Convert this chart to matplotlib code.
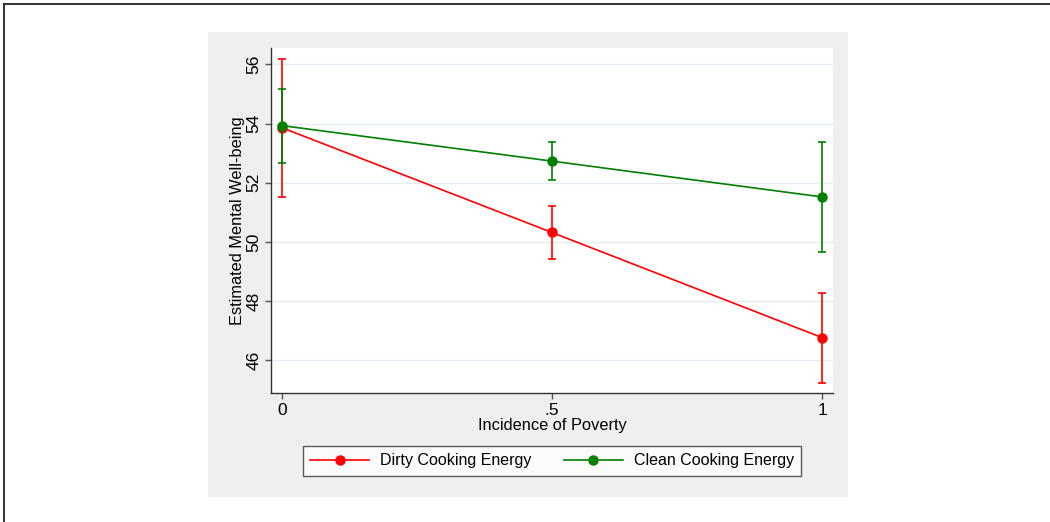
import matplotlib
matplotlib.use("Agg")
import matplotlib.pyplot as plt
from matplotlib.lines import Line2D
from matplotlib.patches import Rectangle

plt.rcParams['font.family'] = ['Liberation Sans', 'DejaVu Sans']

poverty = [0.0, 0.5, 1.0]
x_tick_labels = ['0', '.5', '1']
y_ticks = [46, 48, 50, 52, 54, 56]

dirty_mean = [53.86, 50.32, 46.77]
dirty_lo = [51.53, 49.42, 45.25]
dirty_hi = [56.17, 51.20, 48.28]

clean_mean = [53.93, 52.73, 51.52]
clean_lo = [52.68, 52.10, 49.65]
clean_hi = [55.16, 53.36, 53.39]

series_labels = ['Dirty Cooking Energy', 'Clean Cooking Energy']

W, H = 1050, 522
fig = plt.figure(figsize=(W / 100, H / 100), dpi=100)
fig.patch.set_facecolor('white')

# gray graph region
fig.patches.append(Rectangle((208 / W, 1 - 497 / H), 640 / W, 465 / H,
                             transform=fig.transFigure, facecolor='#efefef',
                             edgecolor='none', zorder=0))
# outer border lines (top & left)
fig.lines.append(Line2D([4 / W, 1], [1 - 4 / H, 1 - 4 / H], transform=fig.transFigure,
                        color='#222222', lw=1.3))
fig.lines.append(Line2D([4 / W, 4 / W], [0, 1 - 4 / H], transform=fig.transFigure,
                        color='#222222', lw=1.3))

ax = fig.add_axes([271 / W, 1 - 393 / H, (833 - 271) / W, (393 - 48) / H])
ax.set_facecolor('white')
ax.set_zorder(1)

def err(mean, lo, hi):
    return [[m - l for m, l in zip(mean, lo)], [h - m for m, h in zip(mean, hi)]]

red = '#ff0000'
green = '#008000'
ax.errorbar(poverty, dirty_mean, yerr=err(dirty_mean, dirty_lo, dirty_hi), color=red,
            lw=1.2, marker='o', ms=6.5, capsize=3.2, elinewidth=1.2, capthick=1.2,
            label=series_labels[0], zorder=3)
ax.errorbar(poverty, clean_mean, yerr=err(clean_mean, clean_lo, clean_hi), color=green,
            lw=1.2, marker='o', ms=6.5, capsize=3.2, elinewidth=1.2, capthick=1.2,
            label=series_labels[1], zorder=4)

ax.set_xlim(-0.02, 1.02)
ax.set_ylim(44.9, 56.55)
ax.set_xticks(poverty)
ax.set_xticklabels(x_tick_labels)
ax.set_yticks(y_ticks)
ax.set_yticklabels([str(v) for v in y_ticks], rotation=90, va='center')
ax.grid(axis='y', color='#e6edf0', lw=1.0)
ax.set_axisbelow(True)
for s in ['top', 'right']:
    ax.spines[s].set_visible(False)
for s in ['left', 'bottom']:
    ax.spines[s].set_color('#333333')
    ax.spines[s].set_linewidth(1.0)
ax.tick_params(direction='out', length=4, width=1.0, color='#555555',
               labelsize=12.5, pad=3)
ax.set_xlabel('Incidence of Poverty', fontsize=11.8, labelpad=0)
ax.set_ylabel('Estimated Mental Well-being', fontsize=11.8, labelpad=1)

handles = [Line2D([], [], color=red, lw=1.2, marker='o', ms=6.5),
           Line2D([], [], color=green, lw=1.2, marker='o', ms=6.5)]
leg = fig.legend(handles, series_labels, loc='center',
                 bbox_to_anchor=(552 / W, 1 - 461 / H), ncol=2, fontsize=11.5,
                 frameon=True, fancybox=False, edgecolor='#333333',
                 handlelength=3.7, handletextpad=0.7, columnspacing=2.0,
                 borderpad=0.45, borderaxespad=0)
leg.get_frame().set_linewidth(1.0)
leg.get_frame().set_facecolor('white')

fig.savefig('out.png', dpi=100)
